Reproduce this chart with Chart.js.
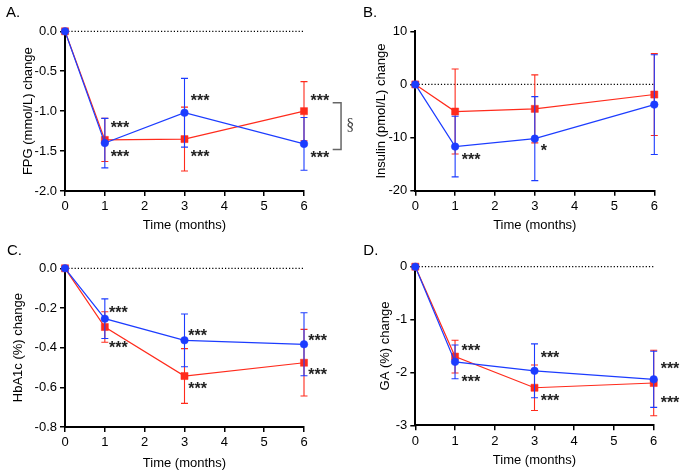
<!DOCTYPE html>
<html>
<head>
<meta charset="utf-8">
<script src="https://cdn.jsdelivr.net/npm/chart.js@4.4.1/dist/chart.umd.min.js"></script>
<style>
  html, body { margin: 0; padding: 0; background: #fff; }
  #wrap { position: relative; width: 685px; height: 473px; overflow: hidden; }
  canvas { position: absolute; }
</style>
</head>
<body>
<div id="wrap">
  <canvas id="chartA" width="365" height="235" style="left:0;top:0"></canvas>
  <canvas id="chartB" width="340" height="235" style="left:345px;top:0"></canvas>
  <canvas id="chartC" width="345" height="238" style="left:0;top:235px"></canvas>
  <canvas id="chartD" width="340" height="238" style="left:345px;top:235px"></canvas>
</div>
<script>
// time points (months)
const months = [0, 1, 3, 6];

// A. FPG change (mmol/L)
const fpgRed = [0, -1.36, -1.35, -1.00];
const fpgRedErr = [0, 0.27, 0.40, 0.37];
const fpgBlue = [0, -1.40, -1.02, -1.41];
const fpgBlueErr = [0, 0.31, 0.43, 0.33];

// B. Insulin change (pmol/L)
const insRed = [0, -5.1, -4.6, -1.9];
const insRedErr = [0, 8.0, 6.4, 7.7];
const insBlue = [0, -11.7, -10.2, -3.8];
const insBlueErr = [0, 5.7, 7.9, 9.4];

// C. HbA1c change (%)
const hbaRed = [0, -0.296, -0.543, -0.476];
const hbaRedErr = [0, 0.077, 0.138, 0.168];
const hbaBlue = [0, -0.254, -0.363, -0.383];
const hbaBlueErr = [0, 0.100, 0.133, 0.159];

// D. GA change (%)
const gaRed = [0, -1.70, -2.29, -2.20];
const gaRedErr = [0, 0.31, 0.43, 0.62];
const gaBlue = [0, -1.80, -1.97, -2.13];
const gaBlueErr = [0, 0.32, 0.51, 0.53];

// significance marks (data coords of the star centres)
const fpgStars = [
  {x: 1.38, y: -1.155, t: '***'}, {x: 1.38, y: -1.52, t: '***'},
  {x: 3.39, y: -0.82, t: '***'}, {x: 3.39, y: -1.52, t: '***'},
  {x: 6.40, y: -0.82, t: '***'}, {x: 6.40, y: -1.54, t: '***'}
];
const insStars = [
  {x: 1.40, y: -13.5, t: '***'}, {x: 3.23, y: -11.8, t: '*'}
];
const hbaStars = [
  {x: 1.34, y: -0.205, t: '***'}, {x: 1.34, y: -0.383, t: '***'},
  {x: 3.33, y: -0.319, t: '***'}, {x: 3.33, y: -0.588, t: '***'},
  {x: 6.34, y: -0.345, t: '***'}, {x: 6.34, y: -0.516, t: '***'}
];
const gaStars = [
  {x: 1.40, y: -1.52, t: '***'}, {x: 1.40, y: -2.10, t: '***'},
  {x: 3.39, y: -1.65, t: '***'}, {x: 3.39, y: -2.47, t: '***'},
  {x: 6.41, y: -1.85, t: '***'}, {x: 6.41, y: -2.49, t: '***'}
];
// bracket between the two 6-month values in A
const fpgBracket = {x: 6.93, tickX: 6.72, top: -0.896, bottom: -1.48, labelX: 7.16, label: '§'};

const RED = '#ff2b1c';
const BLUE = '#1c3cff';
const FONT = '"Liberation Sans", Arial, Helvetica, sans-serif';

Chart.defaults.font.family = FONT;
Chart.defaults.color = '#000';

function toPoints(values) {
    return months.map((m, i) => ({x: m, y: values[i]}));
}

// draws the error bars of a dataset right before the dataset itself
const errorBarPlugin = {
    id: 'errorBars',
    beforeDatasetDraw(chart, args) {
        const ds = chart.data.datasets[args.index];
        if (!ds.err) return;
        const ctx = chart.ctx;
        const ys = chart.scales.y;
        ctx.save();
        ctx.strokeStyle = ds.borderColor;
        ctx.lineWidth = 1.1;
        args.meta.data.forEach((pt, i) => {
            const e = ds.err[i];
            if (!e) return;
            const v = ds.data[i].y;
            const top = ys.getPixelForValue(v + e);
            const bot = ys.getPixelForValue(v - e);
            ctx.beginPath();
            ctx.moveTo(pt.x, top); ctx.lineTo(pt.x, bot);
            ctx.moveTo(pt.x - 3.5, top); ctx.lineTo(pt.x + 3.5, top);
            ctx.moveTo(pt.x - 3.5, bot); ctx.lineTo(pt.x + 3.5, bot);
            ctx.stroke();
        });
        ctx.restore();
    }
};

function makePanel(id, p) {
    const decorations = {
        id: 'decorations',
        afterDraw(chart) {
            const ctx = chart.ctx;
            const xs = chart.scales.x, ys = chart.scales.y;
            ctx.save();
            // panel letter
            ctx.fillStyle = '#000';
            ctx.font = '15px ' + FONT;
            ctx.textAlign = 'left';
            ctx.textBaseline = 'alphabetic';
            ctx.fillText(p.letter, p.letterX, p.letterY);
            // stars
            ctx.fillStyle = '#222';
            ctx.font = 'bold 16px ' + FONT;
            ctx.textAlign = 'center';
            p.stars.forEach(s => {
                ctx.fillText(s.t, xs.getPixelForValue(s.x), ys.getPixelForValue(s.y) + 9.2);
            });
            // bracket
            if (p.bracket) {
                const b = p.bracket;
                const bx = xs.getPixelForValue(b.x), tx = xs.getPixelForValue(b.tickX);
                const by1 = ys.getPixelForValue(b.top), by2 = ys.getPixelForValue(b.bottom);
                ctx.strokeStyle = '#666';
                ctx.lineWidth = 1.5;
                ctx.beginPath();
                ctx.moveTo(tx, by1); ctx.lineTo(bx, by1); ctx.lineTo(bx, by2); ctx.lineTo(tx, by2);
                ctx.stroke();
                ctx.fillStyle = '#444';
                ctx.font = '16px "Liberation Serif", "DejaVu Serif", serif';
                ctx.textBaseline = 'middle';
                ctx.fillText(b.label, xs.getPixelForValue(b.labelX), (by1 + by2) / 2);
            }
            ctx.restore();
        }
    };

    new Chart(document.getElementById(id).getContext('2d'), {
        type: 'line',
        data: {
            datasets: [
                {
                    label: 'blue',
                    data: toPoints(p.blue),
                    err: p.blueErr,
                    borderColor: BLUE,
                    backgroundColor: BLUE,
                    borderWidth: 1.2,
                    pointStyle: 'circle',
                    pointRadius: 3.8,
                    pointBorderWidth: 0.5,
                    clip: false,
                    order: 0
                },
                {
                    label: 'red',
                    data: toPoints(p.red),
                    err: p.redErr,
                    borderColor: RED,
                    backgroundColor: RED,
                    borderWidth: 1.2,
                    pointStyle: 'rect',
                    pointRadius: 5,
                    pointBorderWidth: 0.5,
                    clip: false,
                    order: 1
                },
                {
                    label: 'zero',
                    data: [{x: 0, y: 0}, {x: 6, y: 0}],
                    borderColor: '#000',
                    borderWidth: 1.3,
                    borderDash: [1.2, 2],
                    pointRadius: 0,
                    clip: false,
                    order: 2
                }
            ]
        },
        options: {
            responsive: false,
            animation: false,
            devicePixelRatio: 1,
            layout: {padding: p.padding},
            plugins: {
                legend: {display: false},
                tooltip: {enabled: false}
            },
            scales: {
                x: {
                    type: 'linear',
                    min: 0,
                    max: 6,
                    afterFit: (scale) => { scale.height = p.xAxisHeight; },
                    ticks: {stepSize: 1, font: {size: 13}, color: '#000', padding: 3},
                    grid: {drawOnChartArea: false, drawTicks: true, tickLength: 5, color: '#000', lineWidth: 1.5},
                    border: {display: true, color: '#000', width: 2},
                    title: {display: true, text: 'Time (months)', font: {size: 13}, color: '#000', padding: 0}
                },
                y: {
                    min: p.yMin,
                    max: p.yMax,
                    afterFit: (scale) => { scale.width = p.yAxisWidth; },
                    ticks: {
                        stepSize: p.step,
                        font: {size: 13},
                        color: '#000',
                        padding: 3,
                        callback: (v) => Math.abs(v) < 1e-9 ? (0).toFixed(p.decimals) : Number(v).toFixed(p.decimals)
                    },
                    grid: {drawOnChartArea: false, drawTicks: true, tickLength: 5, color: '#000', lineWidth: 1.5},
                    border: {display: true, color: '#000', width: 2},
                    title: {display: true, text: p.yTitle, font: {size: 13}, color: '#000', padding: 0}
                }
            }
        },
        plugins: [errorBarPlugin, decorations]
    });
}

makePanel('chartA', {
    letter: 'A.', letterX: 6, letterY: 17.3,
    red: fpgRed, redErr: fpgRedErr, blue: fpgBlue, blueErr: fpgBlueErr,
    stars: fpgStars, bracket: fpgBracket,
    yMin: -2, yMax: 0, step: 0.5, decimals: 1,
    yTitle: 'FPG (mmol/L) change',
    padding: {left: 20.5, right: 61, top: 31.3, bottom: 1.7},
    yAxisWidth: 44.5, xAxisHeight: 42.3
});

makePanel('chartB', {
    letter: 'B.', letterX: 18, letterY: 17,
    red: insRed, redErr: insRedErr, blue: insBlue, blueErr: insBlueErr,
    stars: insStars,
    yMin: -20, yMax: 10, step: 10, decimals: 0,
    yTitle: 'Insulin (pmol/L) change',
    padding: {left: 28.2, right: 30.7, top: 31.3, bottom: 1.7},
    yAxisWidth: 42.1, xAxisHeight: 42.6
});

makePanel('chartC', {
    letter: 'C.', letterX: 7, letterY: 20,
    red: hbaRed, redErr: hbaRedErr, blue: hbaBlue, blueErr: hbaBlueErr,
    stars: hbaStars,
    yMin: -0.8, yMax: 0, step: 0.2, decimals: 1,
    yTitle: 'HbA1c (%) change',
    padding: {left: 10.9, right: 41, top: 33.3, bottom: 2.2},
    yAxisWidth: 54.1, xAxisHeight: 43.8
});

makePanel('chartD', {
    letter: 'D.', letterX: 18.3, letterY: 20,
    red: gaRed, redErr: gaRedErr, blue: gaBlue, blueErr: gaBlueErr,
    stars: gaStars,
    yMin: -3, yMax: 0, step: 1, decimals: 0,
    yTitle: 'GA (%) change',
    padding: {left: 32.2, right: 31.3, top: 31.7, bottom: 4.4},
    yAxisWidth: 38.1, xAxisHeight: 43.3
});
</script>
</body>
</html>
